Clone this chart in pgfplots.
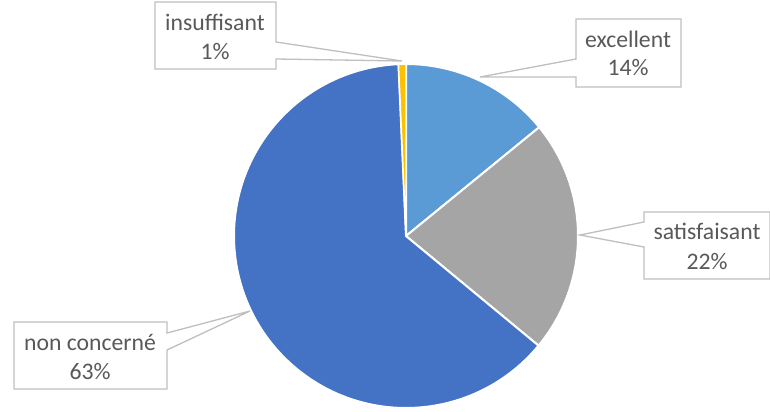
\documentclass[border=0pt]{standalone}
\usepackage{pgfplots}
\usepackage{pgfplotstable}
\pgfplotsset{compat=1.18}
\usepackage{fontspec}
\setmainfont{Carlito}
\definecolor{cExc}{HTML}{5B9BD5}
\definecolor{cSat}{HTML}{A5A5A5}
\definecolor{cNon}{HTML}{4472C4}
\definecolor{cIns}{HTML}{FFC000}
\definecolor{txt}{HTML}{595959}
\definecolor{brd}{HTML}{BFBFBF}
\newcommand\fs{\fontsize{23.7bp}{28bp}\selectfont}
\pgfplotstableread{
name value
excellent 14.1
satisfaisant 21.9
nonconcerne 63.3
insuffisant 0.7
}\piedata
\begin{document}
\begin{tikzpicture}
\pgfplotstablegetelem{0}{value}\of\piedata\global\let\vA\pgfplotsretval
\pgfplotstablegetelem{1}{value}\of\piedata\global\let\vB\pgfplotsretval
\pgfplotstablegetelem{2}{value}\of\piedata\global\let\vC\pgfplotsretval
\pgfplotstablegetelem{3}{value}\of\piedata\global\let\vD\pgfplotsretval
\pgfmathsetmacro\aA{90}
\pgfmathsetmacro\aB{90-3.6*\vA}
\pgfmathsetmacro\aC{90-3.6*(\vA+\vB)}
\pgfmathsetmacro\aD{90-3.6*(\vA+\vB+\vC)}
\pgfmathsetmacro\aE{90-3.6*(\vA+\vB+\vC+\vD)}
\begin{axis}[width=770bp,height=411bp,scale only axis,
  xmin=0,xmax=770,ymin=0,ymax=411,y dir=reverse,hide axis,clip=false]
\coordinate (BL) at (axis cs:0,411);
\coordinate (TR) at (axis cs:770,0);
\fill[cExc,draw=white,line width=2bp] (axis cs:406,236) -- ++(\aA:172bp) arc[start angle=\aA,end angle=\aB,radius=172bp] -- cycle;
\fill[cSat,draw=white,line width=2bp] (axis cs:406,236) -- ++(\aB:172bp) arc[start angle=\aB,end angle=\aC,radius=172bp] -- cycle;
\fill[cNon,draw=white,line width=2bp] (axis cs:406,236) -- ++(\aC:172bp) arc[start angle=\aC,end angle=\aD,radius=172bp] -- cycle;
\fill[cIns,draw=white,line width=1.5bp] (axis cs:406,236) -- ++(\aD:172bp) arc[start angle=\aD,end angle=\aE,radius=172bp] -- cycle;
% callouts
\draw[brd,fill=white,line width=1.3bp] (axis cs:155,2) -- (axis cs:276,2) -- (axis cs:276,42) -- (axis cs:402,61) -- (axis cs:276,59) -- (axis cs:276,69) -- (axis cs:155,69) -- cycle;
\draw[brd,fill=white,line width=1.3bp] (axis cs:576,19) -- (axis cs:681,19) -- (axis cs:681,87) -- (axis cs:576,87) -- (axis cs:576,77) -- (axis cs:480,77) -- (axis cs:576,59) -- cycle;
\draw[brd,fill=white,line width=1.3bp] (axis cs:644,212) -- (axis cs:770,212) -- (axis cs:770,279) -- (axis cs:644,279) -- (axis cs:644,247) -- (axis cs:580,235) -- (axis cs:644,222) -- cycle;
\draw[brd,fill=white,line width=1.3bp] (axis cs:14,322) -- (axis cs:167,322) -- (axis cs:167,333) -- (axis cs:250,311) -- (axis cs:167,350) -- (axis cs:167,389) -- (axis cs:14,389) -- cycle;
% texts
\node[anchor=base,text=txt,font=\fs,inner sep=0pt] at (axis cs:215,30.5) {insuffisant};
\node[anchor=base,text=txt,font=\fs,inner sep=0pt] at (axis cs:215,59.5) {1\%};
\node[anchor=base,text=txt,font=\fs,inner sep=0pt] at (axis cs:628,47.5) {excellent};
\node[anchor=base,text=txt,font=\fs,inner sep=0pt] at (axis cs:628,76) {14\%};
\node[anchor=base,text=txt,font=\fs,inner sep=0pt] at (axis cs:707,239) {satisfaisant};
\node[anchor=base,text=txt,font=\fs,inner sep=0pt] at (axis cs:707,269) {22\%};
\node[anchor=base,text=txt,font=\fs,inner sep=0pt] at (axis cs:90,350) {non concerné};
\node[anchor=base,text=txt,font=\fs,inner sep=0pt] at (axis cs:90,379) {63\%};
\end{axis}
\pgfresetboundingbox
\path (BL) rectangle (TR);
\end{tikzpicture}
\end{document}
